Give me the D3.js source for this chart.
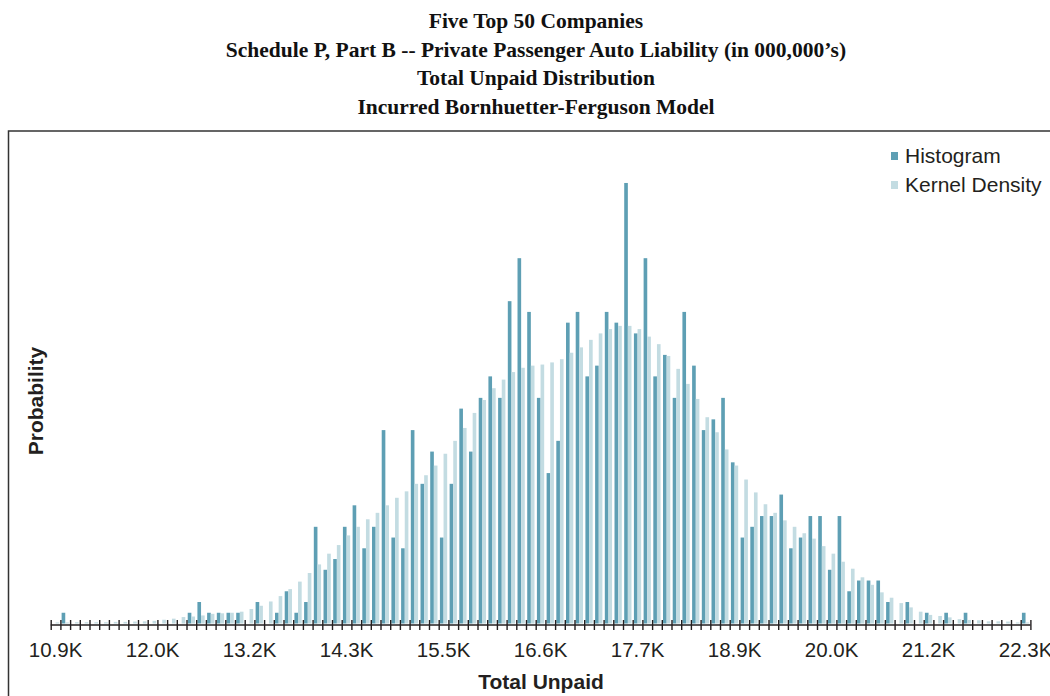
<!DOCTYPE html>
<html>
<head>
<meta charset="utf-8">
<title>Total Unpaid Distribution</title>
<script src="https://d3js.org/d3.v7.min.js"></script>
<style>
    body { margin: 0; background: #fff; }
    svg { display: block; }
    .title { font-family: "Liberation Serif", "Times New Roman", serif; font-weight: bold; font-size: 21.5px; fill: #111; }
    .lab { font-family: "Liberation Sans", Arial, Helvetica, sans-serif; fill: #231f20; }
</style>
</head>
<body>
<svg id="chart" width="1050" height="696"></svg>
<script>

// chart texts
var titleLines = [
    "Five Top 50 Companies",
    "Schedule P, Part B -- Private Passenger Auto Liability (in 000,000\u2019s)",
    "Total Unpaid Distribution",
    "Incurred Bornhuetter-Ferguson Model"
];
var seriesNames = ["Histogram", "Kernel Density"];

// x axis labels and the bin each one sits under
var tickLabels = ["10.9K", "12.0K", "13.2K", "14.3K", "15.5K", "16.6K", "17.7K", "18.9K", "20.0K", "21.2K", "22.3K"];
var labelBins = [0, 10, 20, 30, 40, 50, 60, 70, 80, 90, 100];

// probability per bin, in percent (101 bins)
var histogram = [
    0, 0.1, 0, 0, 0, 0, 0, 0, 0, 0,
    0, 0, 0, 0, 0.1, 0.2, 0.1, 0.1, 0.1, 0.1,
    0, 0.2, 0, 0.1, 0.3, 0.1, 0.2, 0.9, 0.5, 0.6,
    0.9, 1.1, 0.7, 0.9, 1.8, 0.8, 0.7, 1.8, 1.3, 1.6,
    0.8, 1.3, 2.0, 1.6, 2.1, 2.3, 2.1, 3.0, 3.4, 2.9,
    2.1, 1.4, 1.7, 2.8, 2.9, 2.3, 2.4, 2.9, 2.8, 4.1,
    2.7, 3.4, 2.3, 2.5, 2.1, 2.9, 2.4, 1.8, 1.9, 2.1,
    1.5, 0.8, 0.9, 1.0, 1.0, 1.2, 0.7, 0.8, 1.0, 1.0,
    0.5, 1.0, 0.3, 0.4, 0.4, 0.4, 0.2, 0, 0.2, 0,
    0.1, 0, 0.1, 0, 0.1, 0, 0, 0, 0, 0,
    0.1
];

var kernelDensity = [
    0.01, 0.01, 0.012, 0.012, 0.012, 0.012, 0.015, 0.015, 0.018, 0.02,
    0.025, 0.035, 0.045, 0.06, 0.065, 0.075, 0.09, 0.095, 0.1, 0.11,
    0.135, 0.165, 0.205, 0.255, 0.32, 0.39, 0.47, 0.55, 0.65, 0.73,
    0.82, 0.90, 0.97, 1.03, 1.10, 1.17, 1.23, 1.30, 1.38, 1.47,
    1.58, 1.70, 1.82, 1.96, 2.08, 2.19, 2.27, 2.34, 2.38, 2.40,
    2.41, 2.43, 2.46, 2.52, 2.57, 2.64, 2.70, 2.74, 2.77, 2.77,
    2.74, 2.67, 2.60, 2.49, 2.37, 2.23, 2.09, 1.92, 1.78, 1.62,
    1.47, 1.34, 1.22, 1.11, 1.03, 0.96, 0.90, 0.84, 0.79, 0.72,
    0.65, 0.575, 0.51, 0.43, 0.36, 0.29, 0.24, 0.19, 0.15, 0.11,
    0.08, 0.07, 0.057, 0.04, 0.033, 0.03, 0.02, 0.02, 0.018, 0.01,
    0.01
];

var colors = ["#5e9fb4", "#c3dce2"];

var svg = d3.select("#chart");

// outer frame round the plot
svg.append("rect")
    .attr("x", 8.5)
    .attr("y", 131)
    .attr("width", 1100)
    .attr("height", 700)
    .attr("fill", "none")
    .attr("stroke", "#333")
    .attr("stroke-width", 1.5);

svg.selectAll("text.title")
    .data(titleLines)
    .enter().append("text")
    .attr("class", "title")
    .attr("x", 536)
    .attr("y", function (d, i) { return 28 + i * 28.5; })
    .attr("text-anchor", "middle")
    .text(function (d) { return d; });

var bins = d3.range(histogram.length);
var left = 50.7, right = 1030.4, baseY = 623.5;

var x0 = d3.scaleBand().domain(bins).range([left, right]).paddingInner(0.25).paddingOuter(0.125);
var x1 = d3.scaleBand().domain([0, 1]).range([0, x0.bandwidth()]);
var y = d3.scaleLinear().domain([0, 4.5]).range([baseY, 140]);

var binG = svg.append("g").selectAll("g")
    .data(bins)
    .enter().append("g")
    .attr("transform", function (d) { return "translate(" + x0(d) + ",0)"; });

binG.selectAll("rect")
    .data(function (d) { return [histogram[d], kernelDensity[d]]; })
    .enter().append("rect")
    .attr("x", function (d, i) { return x1(i); })
    .attr("width", x1.bandwidth())
    .attr("y", function (d) { return y(d); })
    .attr("height", function (d) { return baseY - y(d); })
    .attr("fill", function (d, i) { return colors[i]; });

// tick marks on the bin edges, crossing the axis line
var xEdge = d3.scaleLinear().domain([0, bins.length]).range([left, right]);
var tickAxis = d3.axisBottom(xEdge)
    .tickValues(d3.range(bins.length + 1))
    .tickSize(10)
    .tickFormat("");
var tg = svg.append("g").attr("transform", "translate(0,620)").call(tickAxis);
tg.select(".domain").remove();
tg.selectAll("line").attr("stroke", "#231f20").attr("stroke-width", 1.4);

svg.append("line")
    .attr("x1", left).attr("x2", right)
    .attr("y1", 625).attr("y2", 625)
    .attr("stroke", "#231f20")
    .attr("stroke-width", 1.6);

// labels every 10 bins
var labAxis = d3.axisBottom(x0)
    .tickValues(labelBins)
    .tickSize(0)
    .tickFormat(function (d, i) { return tickLabels[i]; });
var lg = svg.append("g").attr("transform", "translate(0,625)").call(labAxis);
lg.select(".domain").remove();
lg.selectAll("text")
    .attr("class", "lab")
    .attr("y", 32)
    .attr("dy", 0)
    .attr("font-size", 20.5)
    .attr("font-family", null)
    .attr("fill", null);

svg.append("text")
    .attr("class", "lab")
    .attr("x", 541)
    .attr("y", 689)
    .attr("text-anchor", "middle")
    .attr("font-size", 21)
    .attr("font-weight", "bold")
    .text("Total Unpaid");

svg.append("text")
    .attr("class", "lab")
    .attr("transform", "translate(43,401) rotate(-90)")
    .attr("text-anchor", "middle")
    .attr("font-size", 21)
    .attr("font-weight", "bold")
    .text("Probability");

// legend
var leg = svg.selectAll("g.legend")
    .data(seriesNames)
    .enter().append("g")
    .attr("class", "legend")
    .attr("transform", function (d, i) { return "translate(891," + (152 + i * 29) + ")"; });

leg.append("rect")
    .attr("width", 7)
    .attr("height", 8)
    .attr("fill", function (d, i) { return colors[i]; });

leg.append("text")
    .attr("class", "lab")
    .attr("x", 14)
    .attr("y", 11)
    .attr("font-size", 21)
    .text(function (d) { return d; });

</script>
</body>
</html>
